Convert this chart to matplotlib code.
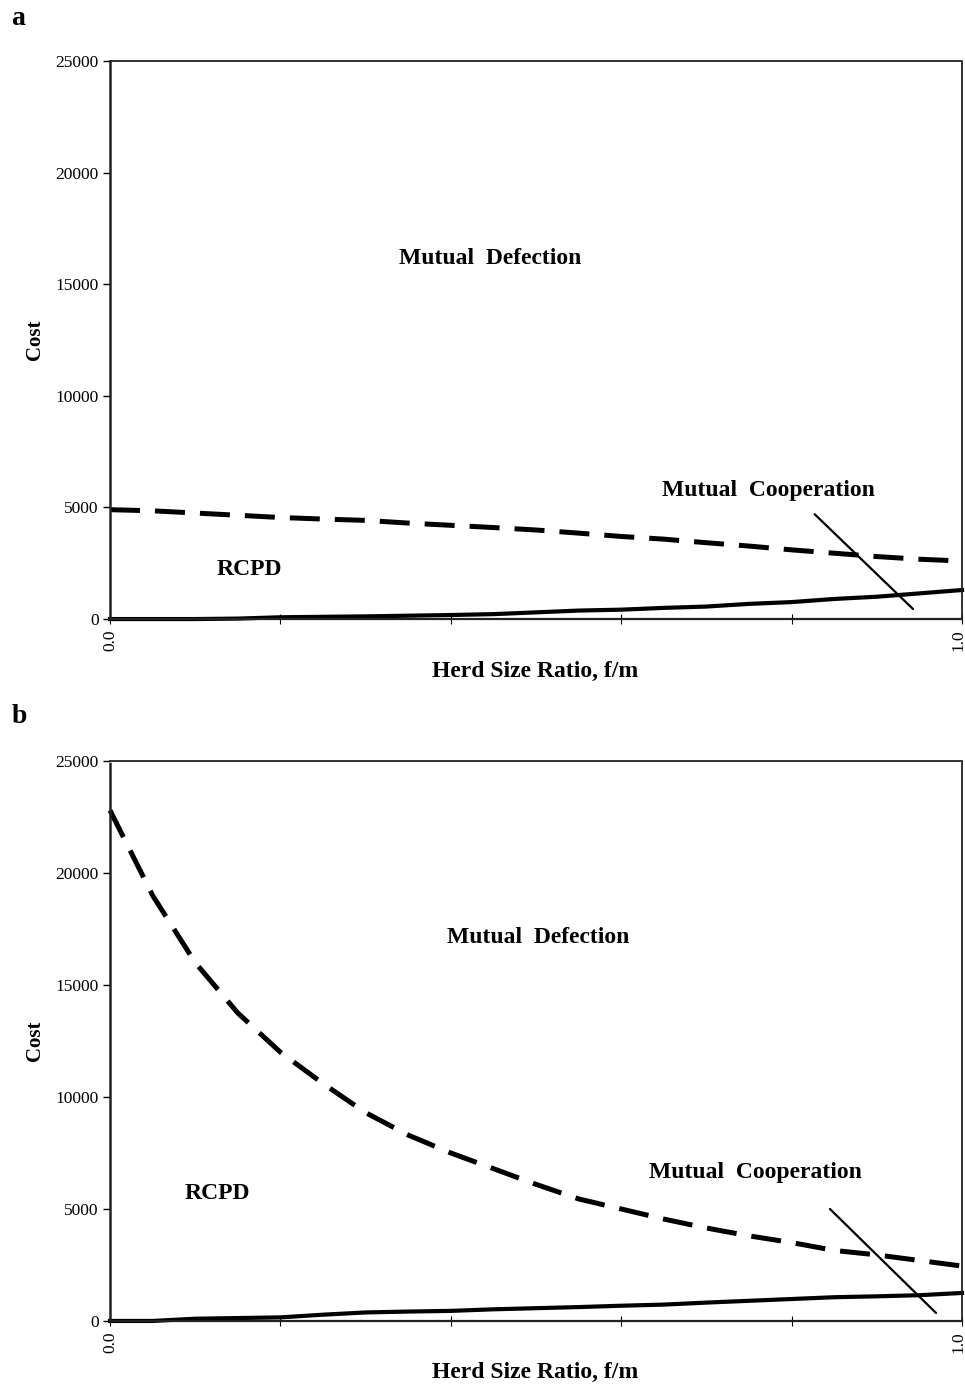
import matplotlib
matplotlib.use("Agg")
import matplotlib.pyplot as plt
import matplotlib.transforms as mtransforms
import numpy as np

# ---- data ----
ratio = [0.00, 0.05, 0.10, 0.15, 0.20, 0.25, 0.30, 0.35, 0.40, 0.45, 0.50,
         0.55, 0.60, 0.65, 0.70, 0.75, 0.80, 0.85, 0.90, 0.95, 1.00]

a_defect = [4900, 4850, 4750, 4650, 4550, 4480, 4420, 4300, 4200, 4100, 3990,
            3850, 3700, 3580, 3420, 3270, 3100, 2950, 2800, 2680, 2600]
a_coop = [0, 0, 0, 20, 80, 100, 120, 150, 180, 220, 300,
          380, 420, 500, 560, 680, 760, 900, 1000, 1150, 1300]

b_defect = [22800, 19000, 16000, 13750, 12000, 10600, 9300, 8300, 7500, 6800, 6100,
            5450, 5000, 4550, 4150, 3800, 3500, 3150, 2950, 2700, 2450]
b_coop = [0, 0, 100, 130, 160, 280, 380, 420, 450, 520, 570,
          620, 680, 730, 820, 900, 980, 1060, 1100, 1150, 1250]

y_ticks = [0, 5000, 10000, 15000, 20000, 25000]
x_ticks = [0.0, 0.2, 0.4, 0.6, 0.8, 1.0]
x_ticklabels = ["0.0", "", "", "", "", "1.0"]

panels = [
    dict(letter="a", defect=a_defect, coop=a_coop,
         md=(0.446, 16170), rcpd=(0.163, 2240), mc=(0.773, 5780),
         pointer=((0.827, 4700), (0.9425, 450)),
         rect=[0.114, 0.554, 0.8829, 0.402], letter_y=0.987, xlabel_y=0.516),
    dict(letter="b", defect=b_defect, coop=b_coop,
         md=(0.502, 17100), rcpd=(0.1256, 5670), mc=(0.758, 6650),
         pointer=((0.845, 5000), (0.9695, 357)),
         rect=[0.114, 0.0483, 0.8829, 0.4034], letter_y=0.4835, xlabel_y=0.0115),
]

plt.rcParams['font.family'] = ['Liberation Serif', 'DejaVu Serif']

fig = plt.figure(figsize=(9.65, 13.88), dpi=100)

for p in panels:
    ax = fig.add_axes(p["rect"])
    ax.plot(ratio, p["defect"], color="black", lw=3.6, dashes=(6, 3),
            solid_capstyle="butt", dash_capstyle="butt", clip_on=False)
    ax.plot(ratio, p["coop"], color="black", lw=3.0, clip_on=False)
    ax.set_xlim(0, 1)
    ax.set_ylim(0, 25000)
    ax.set_yticks(y_ticks)
    ax.set_yticklabels([str(v) for v in y_ticks], fontsize=12.5)
    ax.set_xticks(x_ticks)
    ax.set_xticklabels(x_ticklabels, rotation=90, fontsize=12.5)
    ax.tick_params(axis="y", direction="out", length=5, width=1, pad=3)
    ax.tick_params(axis="x", direction="inout", length=7, width=0.8, pad=4)
    # nudge the last x tick label inward so it stays on the canvas
    lab = ax.get_xticklabels()[-1]
    lab.set_transform(lab.get_transform() +
                      mtransforms.ScaledTranslation(-4 / 100, 0, fig.dpi_scale_trans))
    for s in ax.spines.values():
        s.set_linestyle((0, (1, 1)))
        s.set_linewidth(1.3)
        s.set_color("#222222")
    ax.spines["left"].set_linewidth(1.8)
    ax.spines["bottom"].set_linewidth(1.6)
    ax.set_facecolor("none")

    ax.text(*p["md"], "Mutual  Defection", ha="center", va="center",
            fontsize=17, fontweight="bold")
    ax.text(*p["rcpd"], "RCPD", ha="center", va="center",
            fontsize=17, fontweight="bold")
    ax.text(*p["mc"], "Mutual  Cooperation", ha="center", va="center",
            fontsize=17, fontweight="bold")
    (x0, y0), (x1, y1) = p["pointer"]
    ax.annotate("", xy=(x1, y1), xytext=(x0, y0),
                arrowprops=dict(arrowstyle="-", color="black", lw=1.6,
                                shrinkA=0, shrinkB=0))

    fig.text(0.012, p["letter_y"], p["letter"], fontsize=20, fontweight="bold",
             ha="left", va="center")
    fig.text(0.555, p["xlabel_y"], "Herd Size Ratio, f/m", fontsize=17,
             fontweight="bold", ha="center", va="center")
    r = p["rect"]
    fig.text(0.036, r[1] + r[3] / 2, "Cost", fontsize=15, fontweight="bold",
             rotation=90, ha="center", va="center")

fig.savefig("out.png", dpi=100, facecolor="white")
